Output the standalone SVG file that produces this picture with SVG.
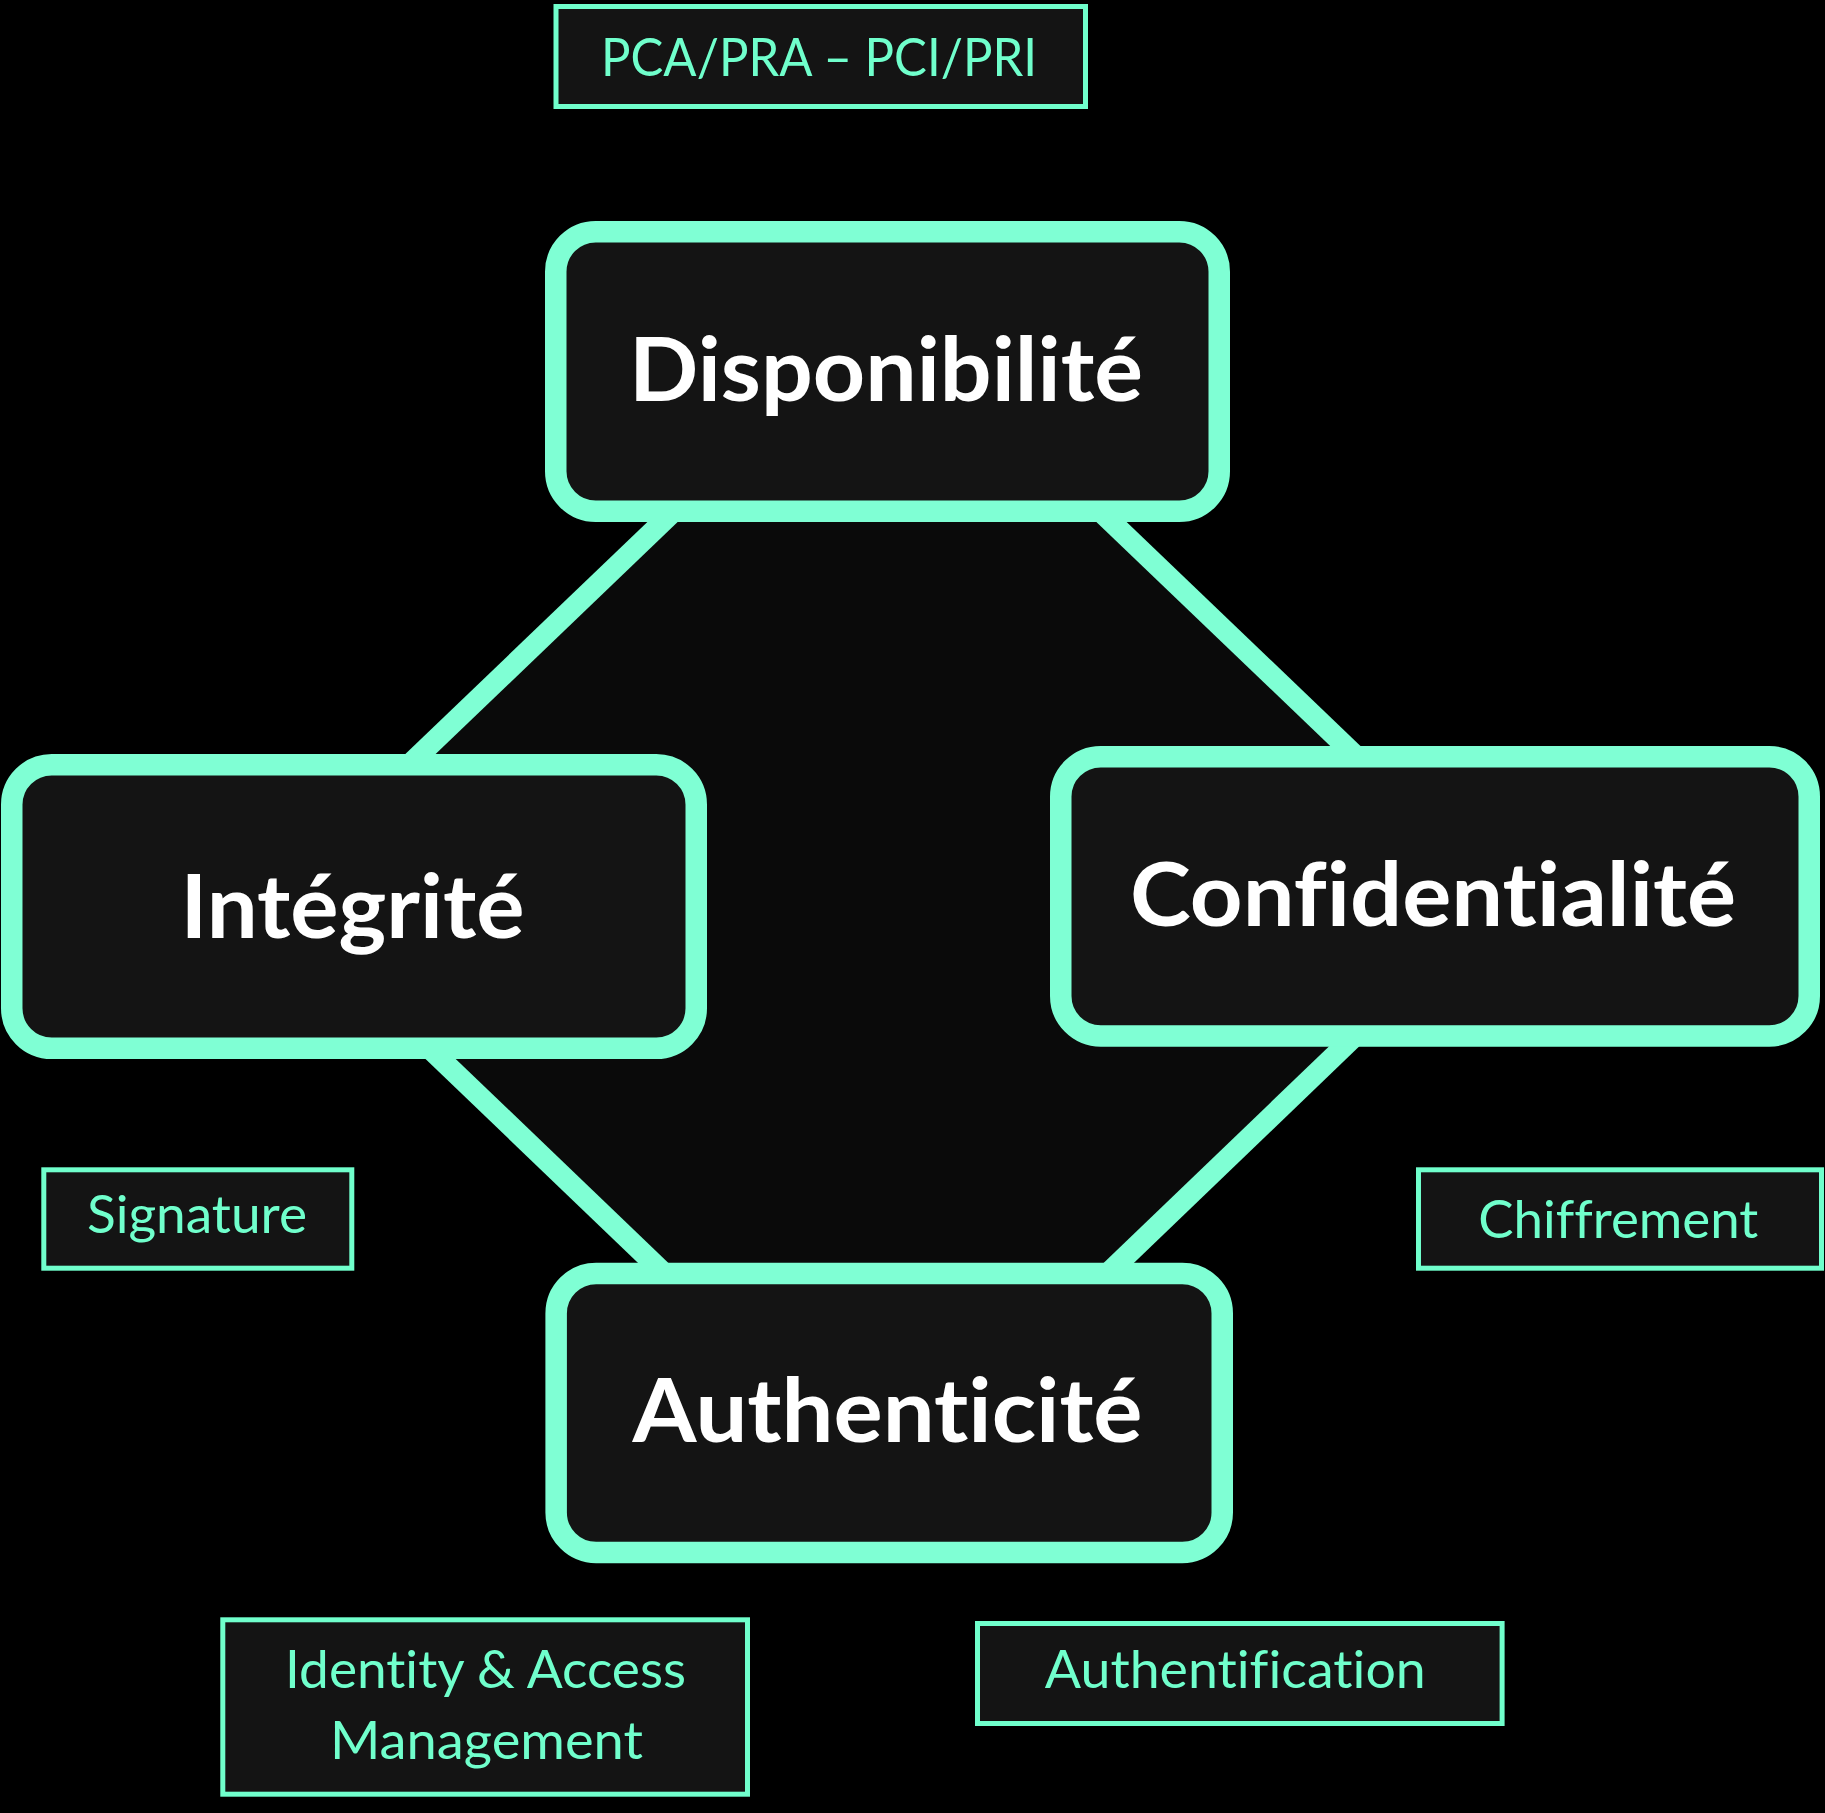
<svg xmlns="http://www.w3.org/2000/svg" width="1825" height="1813" viewBox="0 0 1825 1813">
  <style>
    text { font-variant-ligatures: none; font-feature-settings: "liga" 0, "clig" 0, "dlig" 0; }
    .node rect { fill: #141414; stroke: #7FFFD4; stroke-width: 21.5; }
    .node text { fill: #FFFFFF; font-family: Lato, "Open Sans", "Liberation Sans", sans-serif; font-weight: bold; font-size: 88px; text-anchor: middle; }
    .tag rect { fill: #141414; stroke: #70FFCC; stroke-width: 5; }
    .tag text { fill: #70FFCC; font-family: Lato, "Open Sans", "Liberation Sans", sans-serif; font-size: 52px; text-anchor: middle; }
    .link { stroke: #7FFFD4; stroke-width: 21; fill: none; stroke-linecap: butt; }
  </style>

  <!-- background -->
  <rect x="0" y="0" width="1825" height="1813" fill="#000000"/>

  <!-- slightly lighter area enclosed by the four links -->
  <polygon points="673,512 1101,512 1360,760 1356,1035 1101,1280 671,1280 426,1045 410,764" fill="#0A0A0A"/>

  <!-- connectors -->
  <g id="connectors">
    <line class="link" x1="673" y1="512" x2="410" y2="764"/>
    <line class="link" x1="1101" y1="512" x2="1360" y2="760"/>
    <line class="link" x1="426" y1="1045" x2="671" y2="1280"/>
    <line class="link" x1="1356" y1="1035" x2="1101" y2="1280"/>
  </g>

  <!-- main nodes -->
  <g id="disponibilite" class="node">
    <rect x="555.75" y="231.75" width="663.5" height="279.5" rx="40" ry="40"/>
    <text x="886" y="400.7" textLength="514" lengthAdjust="spacingAndGlyphs">Disponibilité</text>
  </g>
  <g id="integrite" class="node">
    <rect x="11.75" y="764.75" width="684.5" height="283.5" rx="40" ry="40"/>
    <text x="352.6" y="937.7" textLength="344" lengthAdjust="spacingAndGlyphs">Intégrité</text>
  </g>
  <g id="confidentialite" class="node">
    <rect x="1060.75" y="756.75" width="748.5" height="279.2" rx="40" ry="40"/>
    <text x="1433" y="926" textLength="606" lengthAdjust="spacingAndGlyphs">Confidentialité</text>
  </g>
  <g id="authenticite" class="node">
    <rect x="556.15" y="1273.45" width="666.1" height="279" rx="40" ry="40"/>
    <text x="887.5" y="1442.3" textLength="510" lengthAdjust="spacingAndGlyphs">Authenticité</text>
  </g>

  <!-- measure labels -->
  <g id="pca-pra" class="tag">
    <rect x="556" y="6.5" width="529.5" height="100"/>
    <text x="819" y="76" textLength="436" lengthAdjust="spacingAndGlyphs">PCA/PRA – PCI/PRI</text>
  </g>
  <g id="signature" class="tag">
    <rect x="43.8" y="1169.8" width="308" height="98.4"/>
    <text x="197" y="1233.3" textLength="220" lengthAdjust="spacingAndGlyphs">Signature</text>
  </g>
  <g id="chiffrement" class="tag">
    <rect x="1418.5" y="1169.8" width="403" height="98.4"/>
    <text x="1618.3" y="1238.3" textLength="280" lengthAdjust="spacingAndGlyphs">Chiffrement</text>
  </g>
  <g id="iam" class="tag">
    <rect x="222.8" y="1619.8" width="524.7" height="174.4"/>
    <text x="485.5" y="1688.3" textLength="401" lengthAdjust="spacingAndGlyphs">Identity &amp; Access</text>
    <text x="486.5" y="1759" textLength="313" lengthAdjust="spacingAndGlyphs">Management</text>
  </g>
  <g id="authentification" class="tag">
    <rect x="977.5" y="1623.5" width="524.6" height="100"/>
    <text x="1235.3" y="1688.3" textLength="381" lengthAdjust="spacingAndGlyphs">Authentification</text>
  </g>
</svg>
